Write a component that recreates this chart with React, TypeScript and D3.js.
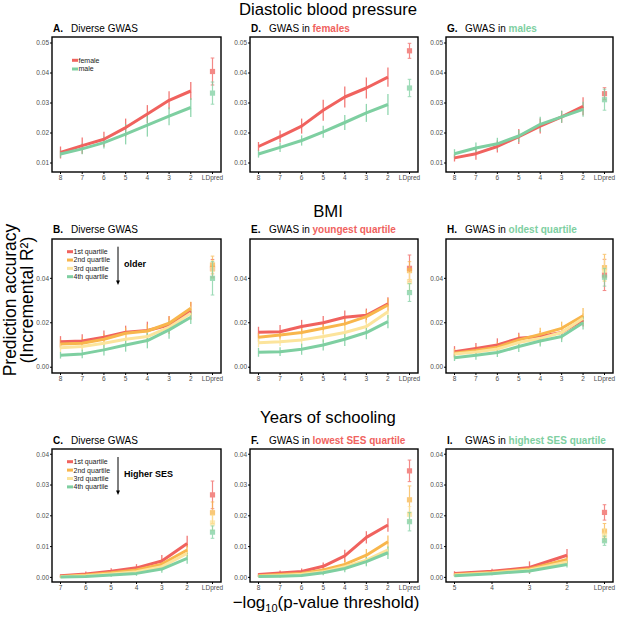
import React from "react";
import * as d3 from "d3";

// ---------- categories & ticks ----------
const thr8 = ["8", "7", "6", "5", "4", "3", "2", "LDpred"];
const thr7 = ["7", "6", "5", "4", "3", "2", "LDpred"];
const thr5 = ["5", "4", "3", "2", "LDpred"];

const dbpTicks = [0.01, 0.02, 0.03, 0.04, 0.05];
const bmiTicks = [0, 0.02, 0.04];
const eduTicks = [0, 0.01, 0.02, 0.03, 0.04];

const sexLabels = ["female", "male"];
const quartileLabels = ["1st quartile", "2nd quartile", "3rd quartile", "4th quartile"];

// ---------- Diastolic blood pressure ----------
const aFemale = [0.0135, 0.0158, 0.0179, 0.0218, 0.0263, 0.0309, 0.034, 0.0405];
const aFemaleErr = [0.002, 0.0027, 0.0025, 0.003, 0.003, 0.003, 0.003, 0.0045];
const aMale = [0.013, 0.0147, 0.0168, 0.0196, 0.0226, 0.0256, 0.0285, 0.0333];
const aMaleErr = [0.0012, 0.0018, 0.002, 0.0034, 0.0038, 0.003, 0.0032, 0.0037];

const dFemale = [0.0155, 0.0188, 0.0223, 0.0276, 0.032, 0.035, 0.0386, 0.0474];
const dFemaleErr = [0.0015, 0.002, 0.0025, 0.0035, 0.0035, 0.0035, 0.0032, 0.0025];
const dMale = [0.013, 0.0152, 0.0175, 0.0204, 0.0235, 0.0267, 0.0295, 0.035];
const dMaleErr = [0.0012, 0.0015, 0.0017, 0.002, 0.0025, 0.003, 0.0035, 0.0029];

const gFemale = [0.0117, 0.0131, 0.0155, 0.0188, 0.0223, 0.0254, 0.0289, 0.0331];
const gFemaleErr = [0.0012, 0.002, 0.002, 0.0025, 0.0025, 0.002, 0.003, 0.002];
const gMale = [0.0131, 0.015, 0.0164, 0.019, 0.0229, 0.0254, 0.0279, 0.0311];
const gMaleErr = [0.0015, 0.0018, 0.002, 0.002, 0.0025, 0.002, 0.0025, 0.0035];

// ---------- BMI ----------
const bQ1 = [0.0115, 0.0118, 0.0135, 0.0157, 0.0165, 0.019, 0.0253, 0.0445];
const bQ1Err = [0.0025, 0.003, 0.003, 0.003, 0.004, 0.004, 0.004, 0.004];
const bQ2 = [0.0105, 0.0108, 0.0126, 0.0153, 0.0163, 0.0198, 0.0265, 0.046];
const bQ2Err = [0.002, 0.0025, 0.0025, 0.0025, 0.003, 0.003, 0.003, 0.004];
const bQ3 = [0.0088, 0.0093, 0.0108, 0.0126, 0.0138, 0.018, 0.0243, 0.044];
const bQ3Err = [0.002, 0.002, 0.0025, 0.0025, 0.003, 0.003, 0.003, 0.004];
const bQ4 = [0.0054, 0.006, 0.0078, 0.01, 0.012, 0.0168, 0.0225, 0.04];
const bQ4Err = [0.0015, 0.002, 0.0025, 0.003, 0.0035, 0.004, 0.003, 0.0075];

const eQ1 = [0.0157, 0.016, 0.0183, 0.02, 0.0225, 0.0234, 0.0285, 0.0445];
const eQ1Err = [0.0025, 0.003, 0.003, 0.003, 0.003, 0.003, 0.003, 0.006];
const eQ2 = [0.0135, 0.0145, 0.0156, 0.0175, 0.0195, 0.0228, 0.028, 0.0435];
const eQ2Err = [0.002, 0.002, 0.0025, 0.0025, 0.003, 0.003, 0.003, 0.004];
const eQ3 = [0.011, 0.0115, 0.0123, 0.0138, 0.0156, 0.0183, 0.025, 0.0385];
const eQ3Err = [0.002, 0.002, 0.0025, 0.0025, 0.003, 0.003, 0.003, 0.004];
const eQ4 = [0.0067, 0.007, 0.0081, 0.01, 0.0126, 0.0156, 0.0205, 0.0336];
const eQ4Err = [0.002, 0.002, 0.0025, 0.0025, 0.003, 0.003, 0.003, 0.004];

const hQ1 = [0.007, 0.0084, 0.01, 0.013, 0.0138, 0.0156, 0.0213, 0.0415];
const hQ1Err = [0.0025, 0.0025, 0.003, 0.0025, 0.0025, 0.003, 0.003, 0.007];
const hQ2 = [0.0063, 0.0075, 0.009, 0.0123, 0.0148, 0.0175, 0.0232, 0.0448];
const hQ2Err = [0.002, 0.002, 0.0025, 0.0025, 0.003, 0.003, 0.0035, 0.006];
const hQ3 = [0.006, 0.0069, 0.0082, 0.0111, 0.013, 0.0156, 0.022, 0.0437];
const hQ3Err = [0.002, 0.002, 0.0025, 0.0025, 0.003, 0.003, 0.003, 0.005];
const hQ4 = [0.0043, 0.0054, 0.0066, 0.0093, 0.0118, 0.0138, 0.02, 0.0405];
const hQ4Err = [0.0015, 0.002, 0.002, 0.0025, 0.0025, 0.0025, 0.003, 0.004];

// ---------- Years of schooling ----------
const cQ1 = [0.0005, 0.0011, 0.002, 0.0031, 0.0053, 0.011, 0.0268];
const cQ1Err = [0.0005, 0.0008, 0.001, 0.0012, 0.002, 0.0025, 0.0045];
const cQ2 = [0.0003, 0.0008, 0.0015, 0.0024, 0.0043, 0.0089, 0.021];
const cQ2Err = [0.0004, 0.0006, 0.0008, 0.001, 0.0015, 0.002, 0.0035];
const cQ3 = [0.0002, 0.0005, 0.0011, 0.0018, 0.0035, 0.0078, 0.0177];
const cQ3Err = [0.0003, 0.0005, 0.0007, 0.0009, 0.0013, 0.002, 0.0025];
const cQ4 = [0.0001, 0.0003, 0.0008, 0.0013, 0.0027, 0.0062, 0.0147];
const cQ4Err = [0.0002, 0.0004, 0.0006, 0.0008, 0.0012, 0.0018, 0.002];

const fQ1 = [0.0009, 0.0014, 0.0019, 0.0036, 0.007, 0.013, 0.017, 0.0346];
const fQ1Err = [0.0005, 0.0008, 0.001, 0.0012, 0.002, 0.002, 0.0022, 0.0035];
const fQ2 = [0.0005, 0.0009, 0.0013, 0.0024, 0.0042, 0.0072, 0.0116, 0.0252];
const fQ2Err = [0.0004, 0.0006, 0.0008, 0.001, 0.0015, 0.002, 0.002, 0.0045];
const fQ3 = [0.0004, 0.0006, 0.001, 0.0018, 0.0035, 0.0056, 0.0089, 0.0205];
const fQ3Err = [0.0003, 0.0005, 0.0007, 0.0009, 0.0013, 0.0015, 0.0018, 0.0025];
const fQ4 = [0.0003, 0.0004, 0.0006, 0.0015, 0.0029, 0.0051, 0.008, 0.0181];
const fQ4Err = [0.0002, 0.0004, 0.0005, 0.0008, 0.0012, 0.0015, 0.002, 0.003];

const iQ1 = [0.0013, 0.002, 0.0032, 0.0072, 0.0211];
const iQ1Err = [0.0007, 0.0008, 0.002, 0.002, 0.0025];
const iQ2 = [0.0009, 0.0016, 0.0027, 0.0058, 0.015];
const iQ2Err = [0.0005, 0.0006, 0.001, 0.0015, 0.0025];
const iQ3 = [0.0008, 0.0014, 0.0024, 0.005, 0.0137];
const iQ3Err = [0.0004, 0.0005, 0.0009, 0.0012, 0.002];
const iQ4 = [0.0005, 0.0012, 0.0021, 0.0042, 0.0119];
const iQ4Err = [0.0003, 0.0005, 0.0008, 0.001, 0.0015];

// ---------- styles ----------
const RED = "#F0625E";
const ORANGE = "#F8B64C";
const YELLOW = "#FCE49C";
const GREEN = "#7ECFA1";
const FONT = "'Liberation Sans', Arial, Helvetica, sans-serif";
const quartileColors = [RED, ORANGE, YELLOW, GREEN];
const sexColors = [RED, GREEN];

type Series = { color: string; values: number[]; errs: number[] };
type TitlePart = { text: string; color?: string; bold?: boolean };

const fmt = d3.format(".2f");

function Panel(props: {
  box: [number, number, number, number];
  cats: string[];
  yDomain: [number, number];
  yTicks: number[];
  series: Series[];
  letter: string;
  title: TitlePart[];
  titleY: number;
  legend?: { labels: string[]; colors: string[]; x: number; y: number; dy: number };
  arrow?: { x: number; y0: number; y1: number; label: string; ly: number };
}) {
  const { box, cats, yDomain, yTicks, series, letter, title, titleY, legend, arrow } = props;
  const [x0, y0, x1, y1] = box;
  const x = d3.scalePoint<string>().domain(cats).range([x0 + 8.5, x1 - 8.5]);
  const y = d3.scaleLinear().domain(yDomain).range([y1, y0]);
  const lineCats = cats.slice(0, -1);
  const line = d3
    .line<number>()
    .x((_, i) => x(lineCats[i]) as number)
    .y((d) => y(d));
  const ld = cats[cats.length - 1];
  const n = cats.length - 1;

  return (
    <g>
      {/* title */}
      <text x={x0 + 1} y={titleY} fontFamily={FONT} fontSize={10} fontWeight="bold" fill="#000">
        {letter}
      </text>
      <text x={x0 + 19} y={titleY} fontFamily={FONT} fontSize={10} fill="#000">
        {title.map((p, i) => (
          <tspan key={i} fill={p.color || "#000"} fontWeight={p.bold ? "bold" : "normal"}>
            {p.text}
          </tspan>
        ))}
      </text>

      {/* error bars on lines */}
      {series.map((s, si) => (
        <g key={"e" + si}>
          {lineCats.map((c, i) => (
            <line
              key={c}
              x1={x(c)}
              x2={x(c)}
              y1={y(s.values[i] - s.errs[i])}
              y2={y(s.values[i] + s.errs[i])}
              stroke={s.color}
              strokeWidth={1.3}
              strokeOpacity={0.85}
            />
          ))}
        </g>
      ))}
      {/* lines */}
      {series.map((s, si) => (
        <path
          key={"l" + si}
          d={line(s.values.slice(0, n)) || ""}
          fill="none"
          stroke={s.color}
          strokeWidth={3}
          strokeLinejoin="round"
        />
      ))}
      {/* LDpred points */}
      {series.map((s, si) => {
        const cx = x(ld) as number;
        const v = s.values[n];
        const e = s.errs[n];
        return (
          <g key={"p" + si} opacity={0.75}>
            <line x1={cx} x2={cx} y1={y(v - e)} y2={y(v + e)} stroke={s.color} strokeWidth={1.2} />
            <line x1={cx - 1.8} x2={cx + 1.8} y1={y(v - e)} y2={y(v - e)} stroke={s.color} strokeWidth={1} />
            <line x1={cx - 1.8} x2={cx + 1.8} y1={y(v + e)} y2={y(v + e)} stroke={s.color} strokeWidth={1} />
            <rect x={cx - 2.6} y={y(v) - 2.6} width={5.2} height={5.2} fill={s.color} />
          </g>
        );
      })}

      {/* frame */}
      <rect x={x0} y={y0} width={x1 - x0} height={y1 - y0} fill="none" stroke="#000" strokeWidth={1.4} />

      {/* y ticks */}
      {yTicks.map((t) => (
        <g key={t}>
          <line x1={x0 - 2} x2={x0} y1={y(t)} y2={y(t)} stroke="#000" strokeWidth={1} />
          <text
            x={x0 - 3}
            y={y(t)}
            dy="0.35em"
            textAnchor="end"
            fontFamily={FONT}
            fontSize={6.5}
            fill="#4d4d4d"
          >
            {fmt(t)}
          </text>
        </g>
      ))}
      {/* x ticks */}
      {cats.map((c) => (
        <g key={c}>
          <line x1={x(c)} x2={x(c)} y1={y1} y2={y1 + 2} stroke="#000" strokeWidth={1} />
          <text
            x={x(c)}
            y={y1 + 7.5}
            textAnchor="middle"
            fontFamily={FONT}
            fontSize={6.5}
            fill="#4d4d4d"
          >
            {c}
          </text>
        </g>
      ))}

      {/* legend */}
      {legend &&
        legend.labels.map((lab, i) => (
          <g key={lab}>
            <line
              x1={legend.x}
              x2={legend.x + 6}
              y1={legend.y + i * legend.dy}
              y2={legend.y + i * legend.dy}
              stroke={legend.colors[i]}
              strokeWidth={3}
            />
            <text
              x={legend.x + 6.5}
              y={legend.y + i * legend.dy}
              dy="0.35em"
              fontFamily={FONT}
              fontSize={7}
              fill="#222"
            >
              {lab}
            </text>
          </g>
        ))}
      {arrow && (
        <g>
          <line x1={arrow.x} x2={arrow.x} y1={arrow.y0} y2={arrow.y1 - 4} stroke="#000" strokeWidth={1} />
          <path
            d={`M${arrow.x - 2},${arrow.y1 - 4.5} L${arrow.x + 2},${arrow.y1 - 4.5} L${arrow.x},${arrow.y1} Z`}
            fill="#000"
          />
          <text x={arrow.x + 6} y={arrow.ly} fontFamily={FONT} fontSize={9} fontWeight="bold" fill="#000">
            {arrow.label}
          </text>
        </g>
      )}
    </g>
  );
}

const mk = (colors: string[], vals: number[][], errs: number[][]): Series[] =>
  vals.map((v, i) => ({ color: colors[i], values: v, errs: errs[i] }));

export default function App() {
  const cols: [number, number][] = [
    [52, 221],
    [250, 418],
    [446, 613],
  ];
  const rows: [number, number][] = [
    [37, 172],
    [239, 373],
    [449, 582],
  ];
  const box = (c: number, r: number): [number, number, number, number] => [
    cols[c][0],
    rows[r][0],
    cols[c][1],
    rows[r][1],
  ];
  const dbpDom: [number, number] = [0.007, 0.052];
  const bmiDom: [number, number] = [-0.0026, 0.0577];
  const eduDom: [number, number] = [-0.0015, 0.0417];

  return (
    <svg
      width={617}
      height={622}
      style={{ position: "absolute", left: 0, top: 0, background: "#fff" }}
    >
      <rect width={617} height={622} fill="#fff" />
      {/* section titles */}
      <text x={328} y={14.5} textAnchor="middle" fontFamily={FONT} fontSize={16.7} fill="#000">
        Diastolic blood pressure
      </text>
      <text x={328} y={217} textAnchor="middle" fontFamily={FONT} fontSize={16.7} fill="#000">
        BMI
      </text>
      <text x={328} y={423} textAnchor="middle" fontFamily={FONT} fontSize={16.7} fill="#000">
        Years of schooling
      </text>

      {/* axis titles */}
      <text transform="translate(15.5,300) rotate(-90)" textAnchor="middle" fontFamily={FONT} fontSize={17.5} fill="#000">
        Prediction accuracy
      </text>
      <text transform="translate(33,300) rotate(-90)" textAnchor="middle" fontFamily={FONT} fontSize={17.5} fill="#000">
        (Incremental R²)
      </text>
      <text x={326} y={608} textAnchor="middle" fontFamily={FONT} fontSize={17} fill="#000">
        <tspan>−log</tspan>
        <tspan fontSize={11} dy={4}>
          10
        </tspan>
        <tspan dy={-4}>(p-value threshold)</tspan>
      </text>

      {/* Row 1 */}
      <Panel
        box={box(0, 0)}
        cats={thr8}
        yDomain={dbpDom}
        yTicks={dbpTicks}
        series={mk(sexColors, [aFemale, aMale], [aFemaleErr, aMaleErr])}
        letter="A."
        title={[{ text: "Diverse GWAS" }]}
        titleY={31.5}
        legend={{ labels: sexLabels, colors: sexColors, x: 72, y: 60.3, dy: 8.7 }}
      />
      <Panel
        box={box(1, 0)}
        cats={thr8}
        yDomain={dbpDom}
        yTicks={dbpTicks}
        series={mk(sexColors, [dFemale, dMale], [dFemaleErr, dMaleErr])}
        letter="D."
        title={[{ text: "GWAS in " }, { text: "females", color: RED, bold: true }]}
        titleY={31.5}
      />
      <Panel
        box={box(2, 0)}
        cats={thr8}
        yDomain={dbpDom}
        yTicks={dbpTicks}
        series={mk(sexColors, [gFemale, gMale], [gFemaleErr, gMaleErr])}
        letter="G."
        title={[{ text: "GWAS in " }, { text: "males", color: GREEN, bold: true }]}
        titleY={31.5}
      />

      {/* Row 2 */}
      <Panel
        box={box(0, 1)}
        cats={thr8}
        yDomain={bmiDom}
        yTicks={bmiTicks}
        series={mk(quartileColors, [bQ1, bQ2, bQ3, bQ4], [bQ1Err, bQ2Err, bQ3Err, bQ4Err])}
        letter="B."
        title={[{ text: "Diverse GWAS" }]}
        titleY={233}
        legend={{ labels: quartileLabels, colors: quartileColors, x: 67, y: 251.7, dy: 8.33 }}
        arrow={{ x: 118, y0: 246.7, y1: 285, label: "older", ly: 266.7 }}
      />
      <Panel
        box={box(1, 1)}
        cats={thr8}
        yDomain={bmiDom}
        yTicks={bmiTicks}
        series={mk(quartileColors, [eQ1, eQ2, eQ3, eQ4], [eQ1Err, eQ2Err, eQ3Err, eQ4Err])}
        letter="E."
        title={[{ text: "GWAS in " }, { text: "youngest quartile", color: RED, bold: true }]}
        titleY={233}
      />
      <Panel
        box={box(2, 1)}
        cats={thr8}
        yDomain={bmiDom}
        yTicks={bmiTicks}
        series={mk(quartileColors, [hQ1, hQ2, hQ3, hQ4], [hQ1Err, hQ2Err, hQ3Err, hQ4Err])}
        letter="H."
        title={[{ text: "GWAS in " }, { text: "oldest quartile", color: GREEN, bold: true }]}
        titleY={233}
      />

      {/* Row 3 */}
      <Panel
        box={box(0, 2)}
        cats={thr7}
        yDomain={eduDom}
        yTicks={eduTicks}
        series={mk(quartileColors, [cQ1, cQ2, cQ3, cQ4], [cQ1Err, cQ2Err, cQ3Err, cQ4Err])}
        letter="C."
        title={[{ text: "Diverse GWAS" }]}
        titleY={443.5}
        legend={{ labels: quartileLabels, colors: quartileColors, x: 67, y: 461.7, dy: 8.4 }}
        arrow={{ x: 118, y0: 457, y1: 495, label: "Higher SES", ly: 477 }}
      />
      <Panel
        box={box(1, 2)}
        cats={thr8}
        yDomain={eduDom}
        yTicks={eduTicks}
        series={mk(quartileColors, [fQ1, fQ2, fQ3, fQ4], [fQ1Err, fQ2Err, fQ3Err, fQ4Err])}
        letter="F."
        title={[{ text: "GWAS in " }, { text: "lowest SES quartile", color: RED, bold: true }]}
        titleY={443.5}
      />
      <Panel
        box={box(2, 2)}
        cats={thr5}
        yDomain={eduDom}
        yTicks={eduTicks}
        series={mk(quartileColors, [iQ1, iQ2, iQ3, iQ4], [iQ1Err, iQ2Err, iQ3Err, iQ4Err])}
        letter="I."
        title={[{ text: "GWAS in " }, { text: "highest SES quartile", color: GREEN, bold: true }]}
        titleY={443.5}
      />
    </svg>
  );
}
